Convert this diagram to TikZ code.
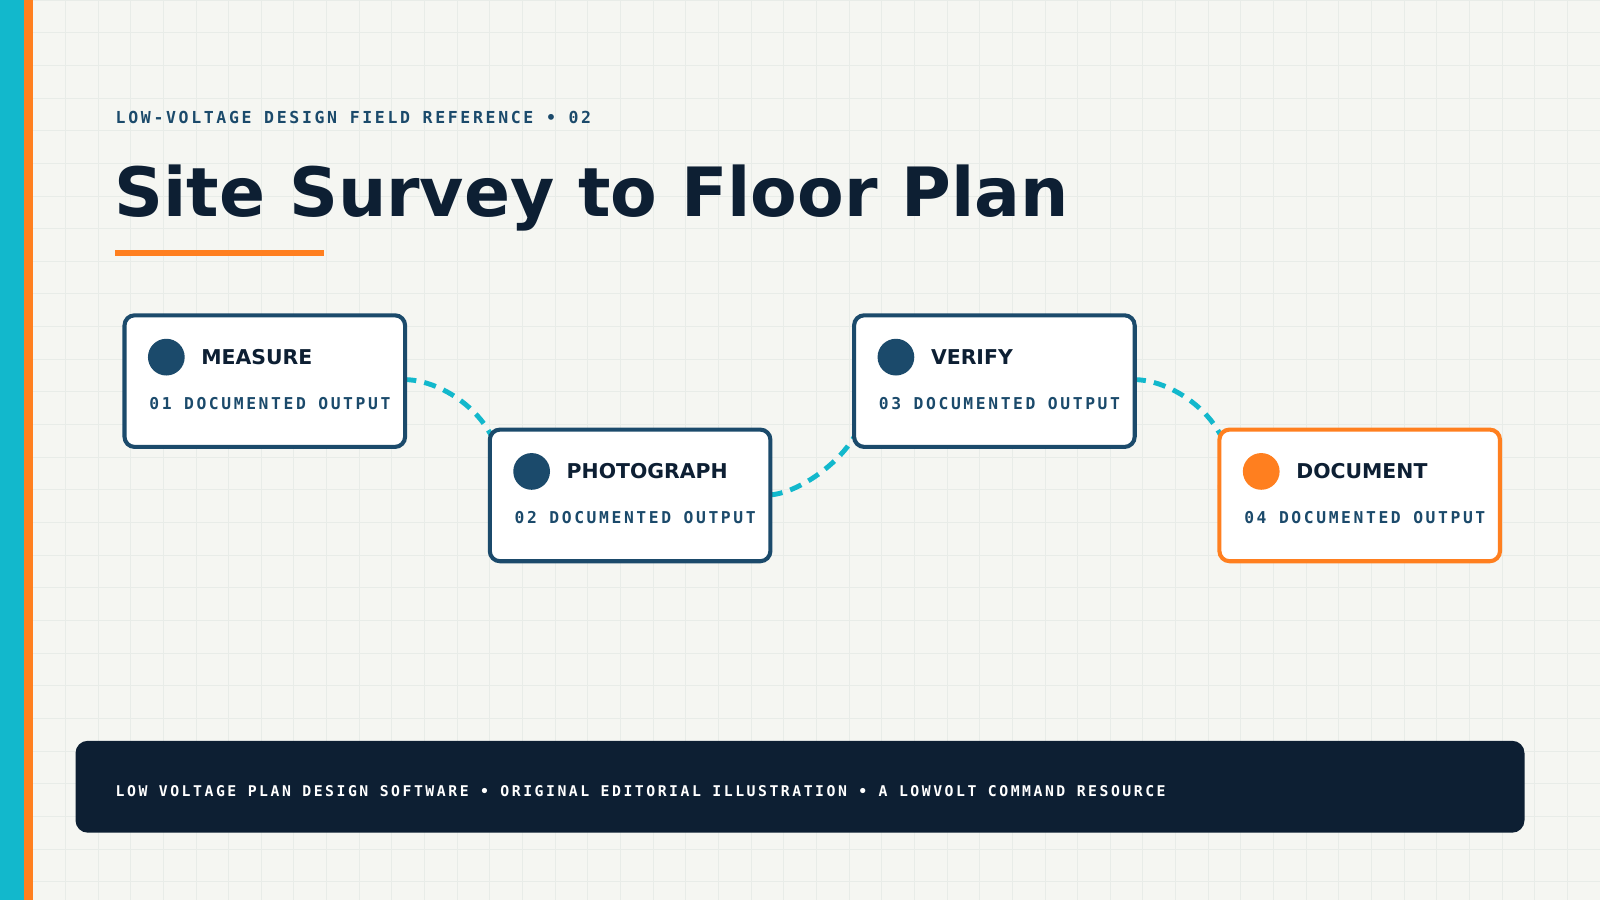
\documentclass[tikz,border=0pt]{standalone}
\usepackage{fontspec}
\setmainfont{DejaVu Sans}
\newfontfamily\monof[LetterSpace=16]{DejaVu Sans Mono}
\newfontfamily\monofoot[LetterSpace=17]{DejaVu Sans Mono}
\usetikzlibrary{arrows.meta}
\definecolor{bg}{HTML}{F5F6F2}
\definecolor{gridc}{HTML}{E8ECE8}
\definecolor{navy}{HTML}{0D1F33}
\definecolor{steel}{HTML}{1B4A6B}
\definecolor{cyanc}{HTML}{12B8CC}
\definecolor{orng}{HTML}{FF7F1F}
\tikzset{
 x=0.5pt,y=-0.5pt,
 box/.style={draw=#1,line width=2pt,fill=white,rounded corners=5pt,minimum width=137.5pt,minimum height=64.5pt,anchor=north west,inner sep=0},
 dot/.style={circle,fill=#1,minimum size=18pt,inner sep=0},
 lbl/.style={anchor=west,text=navy,font=\bfseries\fontsize{10}{12}\selectfont,inner sep=0},
 sub/.style={anchor=west,text=steel,font=\monof\bfseries\fontsize{8}{10}\selectfont,inner sep=0},
 conn/.style={cyanc,line width=2.4pt,dash pattern=on 6pt off 4pt,-{Stealth[orng,length=5pt,width=6pt]}}
}
\begin{document}
\begin{tikzpicture}
\useasboundingbox (0,0) rectangle (1568,882);
\fill[bg] (0,0) rectangle (1568,882);
\foreach \i in {0,32,...,1568} \draw[gridc,line width=0.4pt] (\i,0) -- (\i,882);
\foreach \j in {0,32,...,882} \draw[gridc,line width=0.4pt] (0,\j) -- (1568,\j);
\fill[cyanc] (0,0) rectangle (24,882);
\fill[orng] (24,0) rectangle (32,882);
\node[anchor=base west,inner sep=0,text=steel,font=\monof\bfseries\fontsize{8.1}{10}\selectfont] (kick) at (113,121) {LOW-VOLTAGE DESIGN FIELD REFERENCE • 02};
\node[anchor=base west,inner sep=0,text=navy,font=\bfseries\fontsize{33.3}{40}\selectfont] (title) at (112,212) {Site Survey to Floor Plan};
\fill[orng] (113,245) rectangle (318,251);
% connectors
\coordinate (a1) at (396,372); \coordinate (b1) at (479,487);
\coordinate (b2) at (755,485); \coordinate (c2) at (836,370);
\coordinate (c3) at (1111,372); \coordinate (d3) at (1194,487);
\draw[conn] (a1) .. controls (445,372) and (510,430) .. (b1);
\draw[conn] (b2) .. controls (795,482) and (870,420) .. (c2);
\draw[conn] (c3) .. controls (1160,372) and (1225,430) .. (d3);
% boxes
\foreach \n/\x/\y/\c/\t/\k in {A/120/307/steel/MEASURE/01,B/478/419/steel/PHOTOGRAPH/02,C/835/307/steel/VERIFY/03,D/1193/419/orng/DOCUMENT/04}{
 \node[box=\c] (\n) at (\x,\y) {};
 \node[dot=\c] (\n d) at (\x+43,\y+43) {};
 \node[lbl] (\n l) at (\x+77,\y+43) {\t};
 \node[sub] (\n s) at (\x+26,\y+88) {\k\ DOCUMENTED OUTPUT};
}
\fill[navy,rounded corners=6pt] (74,726) rectangle (1494,816);
\node[anchor=west,inner sep=0,text=white,font=\monofoot\bfseries\fontsize{7.25}{9}\selectfont] (foot) at (113,775) {LOW VOLTAGE PLAN DESIGN SOFTWARE • ORIGINAL EDITORIAL ILLUSTRATION • A LOWVOLT COMMAND RESOURCE};
\end{tikzpicture}
\end{document}
